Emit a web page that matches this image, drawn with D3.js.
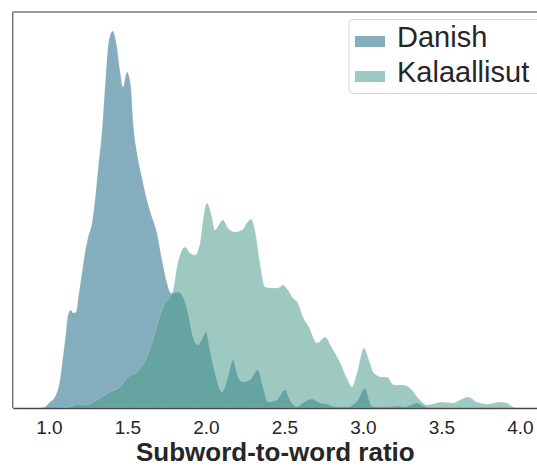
<!DOCTYPE html>
<meta charset="utf-8">
<style>
body { margin: 0; background: #fff; }
svg { font-family: "Liberation Sans", Arial, sans-serif; }
.tick text { fill: #262626; font-size: 19px; font-family: "Liberation Sans", Arial, sans-serif; }
</style>
<body>
<svg width="537" height="466"></svg>
<script src="https://cdn.jsdelivr.net/npm/d3@7"></script>
<script>

// density curves (x = subword-to-word ratio, y = density)
var danishX = [0.943,0.975,1.006,1.038,1.070,1.089,1.108,1.121,1.140,1.153,1.172,1.191,1.210,1.229,1.248,1.274,1.293,1.312,1.338,1.357,1.376,1.395,1.408,1.420,1.433,1.452,1.471,1.497,1.522,1.535,1.561,1.592,1.624,1.656,1.688,1.720,1.752,1.777,1.822,1.854,1.885,1.917,1.949,1.981,2.000,2.025,2.057,2.102,2.140,2.172,2.204,2.236,2.280,2.331,2.363,2.395,2.452,2.503,2.535,2.580,2.618,2.675,2.726,2.771,2.822,2.904,2.968,3.013,3.038,3.064,3.172,3.217,3.268,3.306,3.344,3.382,3.414]
var danishY = [0,0.008,0.045,0.083,0.212,0.386,0.568,0.705,0.742,0.720,0.727,0.871,1.023,1.174,1.288,1.402,1.576,1.803,2.106,2.432,2.735,2.841,2.856,2.818,2.735,2.561,2.432,2.545,2.432,2.182,1.932,1.750,1.576,1.447,1.326,1.121,0.947,0.871,0.879,0.841,0.720,0.538,0.477,0.538,0.576,0.439,0.265,0.121,0.235,0.364,0.235,0.197,0.212,0.288,0.159,0.045,0.061,0.136,0.061,0.008,0.038,0.068,0.038,0.030,0.008,0.008,0.061,0.152,0.061,0.008,0.008,0.015,0.008,0.023,0.038,0.015,0]

var kalX = [1.083,1.134,1.178,1.217,1.261,1.325,1.389,1.452,1.503,1.561,1.624,1.662,1.694,1.726,1.771,1.790,1.815,1.847,1.866,1.898,1.930,1.962,1.981,2.006,2.038,2.057,2.089,2.108,2.140,2.185,2.229,2.261,2.287,2.312,2.344,2.376,2.420,2.459,2.490,2.522,2.554,2.586,2.618,2.656,2.707,2.758,2.803,2.847,2.898,2.930,2.962,3.006,3.038,3.070,3.121,3.153,3.197,3.261,3.299,3.363,3.408,3.503,3.573,3.618,3.669,3.726,3.790,3.873,3.917,3.955,3.981]
var kalY = [0,0.008,0.030,0.023,0.030,0.076,0.121,0.159,0.235,0.273,0.386,0.515,0.652,0.765,0.841,0.886,1.068,1.197,1.220,1.174,1.159,1.250,1.424,1.553,1.447,1.348,1.402,1.424,1.364,1.333,1.348,1.402,1.432,1.348,1.098,0.917,0.909,0.909,0.932,0.894,0.833,0.795,0.689,0.614,0.492,0.538,0.455,0.364,0.227,0.159,0.265,0.455,0.364,0.265,0.235,0.235,0.174,0.174,0.152,0.061,0.023,0.045,0.038,0.061,0.083,0.045,0.030,0.045,0.038,0.008,0]

var seriesNames = ["Danish", "Kalaallisut"]
var seriesColors = ["#1f6a87", "#4f9d8c"]
var xTicks = [1.0, 1.5, 2.0, 2.5, 3.0, 3.5, 4.0]

var svg = d3.select("svg")
var mLeft = 12.7, mRight = 538, mTop = 12, mBottom = 408

var x = d3.scaleLinear().domain([0.769, 4.115]).range([mLeft, mRight])
var y = d3.scaleLinear().domain([0, 3]).range([mBottom, mTop])

svg.append("clipPath").attr("id", "clip")
  .append("rect").attr("x", mLeft).attr("y", mTop).attr("width", mRight - mLeft).attr("height", mBottom - mTop)

var area = d3.area()
    .x(d => x(d[0]))
    .y0(y(0))
    .y1(d => y(d[1]))
    .curve(d3.curveMonotoneX)

var series = [d3.zip(danishX, danishY), d3.zip(kalX, kalY)]

svg.append("g").attr("clip-path", "url(#clip)")
  .selectAll("path")
  .data(series)
  .enter().append("path")
    .attr("d", area)
    .attr("fill", (d, i) => seriesColors[i])
    .attr("fill-opacity", 0.55)
    .attr("stroke", "#fff")
    .attr("stroke-opacity", 0.35)
    .attr("stroke-width", 0.6)

// spines
svg.append("line").attr("x1", mLeft).attr("x2", mLeft).attr("y1", mTop).attr("y2", mBottom)
  .attr("stroke", "#777").attr("stroke-width", 1.5)
svg.append("line").attr("x1", mLeft).attr("x2", mRight).attr("y1", mTop).attr("y2", mTop)
  .attr("stroke", "#7a7a7a").attr("stroke-width", 1.5)

var xAxis = svg.append("g")
    .attr("transform", `translate(0,${mBottom})`)
    .call(d3.axisBottom(x).tickValues(xTicks).tickFormat(d3.format(".1f")).tickSize(0).tickPadding(13))
xAxis.select(".domain").attr("stroke", "#4a4a4a").attr("stroke-width", 1.5)

svg.append("text")
    .attr("x", (mLeft + mRight) / 2)
    .attr("y", 461)
    .attr("text-anchor", "middle")
    .attr("font-size", 26)
    .attr("font-weight", "bold")
    .attr("fill", "#262626")
    .text("Subword-to-word ratio")

// legend
var lg = svg.append("g")
lg.append("rect")
  .attr("x", 349).attr("y", 19.5).attr("width", 200).attr("height", 74).attr("rx", 4)
  .attr("fill", "#fff").attr("fill-opacity", 0.8)
  .attr("stroke", "#d6d6d6").attr("stroke-width", 1)

seriesNames.forEach(function(name, i) {
  lg.append("rect")
    .attr("x", 355).attr("y", 36 + i * 35).attr("width", 30).attr("height", 11)
    .attr("fill", seriesColors[i]).attr("fill-opacity", 0.55)
  lg.append("text")
    .attr("x", 397).attr("y", 47 + i * 35)
    .attr("font-size", 29)
    .attr("fill", "#262626")
    .text(name)
})

</script>
</body>
